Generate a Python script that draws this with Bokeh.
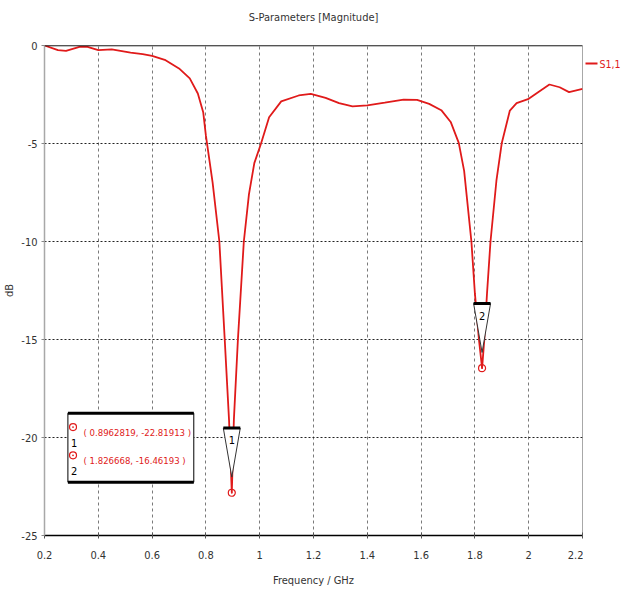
import subprocess
from bokeh.plotting import figure
from bokeh.layouts import row
from bokeh.models import Range1d, FixedTicker, Span, Title
from bokeh.core.properties import value
from bokeh.embed import file_html
from bokeh.resources import INLINE

# ---------------- data ----------------
freq_ghz = [0.20, 0.25, 0.28, 0.33, 0.36, 0.40, 0.45, 0.52, 0.565, 0.60,
            0.65, 0.70, 0.74, 0.77, 0.79, 0.80, 0.825, 0.85, 0.87, 0.886,
            0.8963, 0.904, 0.919, 0.941, 0.96, 0.98, 1.005, 1.035, 1.08, 1.145,
            1.19, 1.245, 1.295, 1.345, 1.40, 1.465, 1.535, 1.585, 1.63, 1.675,
            1.71, 1.74, 1.76, 1.787, 1.80, 1.815, 1.8267, 1.835, 1.845, 1.858,
            1.88, 1.90, 1.93, 1.955, 2.00, 2.035, 2.077, 2.115, 2.15, 2.20]
s11_db = [0.0, -0.24, -0.27, -0.07, -0.07, -0.24, -0.20, -0.36, -0.44, -0.53,
          -0.75, -1.17, -1.68, -2.45, -3.4, -4.6, -7.0, -10.0, -15.0, -19.1,
          -22.82, -19.1, -15.0, -10.0, -7.6, -6.0, -5.0, -3.66, -2.85, -2.55,
          -2.47, -2.67, -2.94, -3.11, -3.06, -2.92, -2.76, -2.77, -2.98, -3.30,
          -3.90, -4.97, -6.40, -10.0, -12.65, -15.0, -16.46, -15.0, -12.65, -10.0,
          -6.9, -4.97, -3.32, -2.94, -2.72, -2.38, -1.99, -2.13, -2.38, -2.21]

marker_ids = ["1", "2"]
marker_freq = [0.8962819, 1.826668]
marker_db = [-22.81913, -16.46193]
marker_freq_text = ["0.8962819", "1.826668"]
marker_db_text = ["-22.81913", "-16.46193"]

x_ticks = [0.2, 0.4, 0.6, 0.8, 1.0, 1.2, 1.4, 1.6, 1.8, 2.0, 2.2]
x_tick_labels = ["0.2", "0.4", "0.6", "0.8", "1", "1.2", "1.4", "1.6", "1.8", "2", "2.2"]
y_ticks = [0, -5, -10, -15, -20, -25]
y_tick_labels = ["0", "-5", "-10", "-15", "-20", "-25"]

title_text = "S-Parameters [Magnitude]"
x_label_text = "Frequency / GHz"
y_label_text = "dB"
series_name = "S1,1"


# ---------------- style / layout ----------------
def pick_font(candidates, fallback):
    try:
        out = subprocess.run(["fc-list", ":", "family"], capture_output=True,
                             text=True, timeout=10).stdout
    except Exception:
        return fallback
    fams = set()
    for line in out.splitlines():
        for f in line.split(","):
            fams.add(f.strip())
    for c in candidates:
        if c in fams:
            return c
    return fallback


FONT = pick_font(["Liberation Sans Narrow", "DejaVu Sans Condensed"], "Roboto")
RED = "#e01a1a"
TXT = "#333333"
TOTAL_H = 589
BORDER_TOP, BORDER_BOTTOM = 45, 54
FRAME_H = TOTAL_H - BORDER_TOP - BORDER_BOTTOM
LEG_W = 39

p = figure(width=583, height=TOTAL_H, output_backend="svg", toolbar_location=None,
           x_range=Range1d(x_ticks[0], x_ticks[-1]),
           y_range=Range1d(y_ticks[-1], y_ticks[0]),
           min_border_left=41, min_border_right=1,
           min_border_top=BORDER_TOP, min_border_bottom=BORDER_BOTTOM)
p.background_fill_color = "white"
p.border_fill_color = "white"
p.outline_line_color = "#a8a8a8"
p.outline_line_width = 1

# spacer between frame and title (lifts the title up)
p.add_layout(Title(text=" ", text_font_size="10px", standoff=0), "above")

# title
p.title.text = title_text
p.title.align = "center"
p.title.vertical_align = "bottom"
p.title.standoff = 17
p.title.text_font = FONT
p.title.text_font_size = "11px"
p.title.text_font_style = "normal"
p.title.text_color = TXT

# axes
p.xaxis.ticker = FixedTicker(ticks=x_ticks)
p.xaxis.major_label_overrides = dict(zip(x_ticks, x_tick_labels))
p.yaxis.ticker = FixedTicker(ticks=y_ticks)
p.yaxis.major_label_overrides = dict(zip(y_ticks, y_tick_labels))
p.xaxis.axis_label = x_label_text
p.yaxis.axis_label = y_label_text
for ax in (p.xaxis, p.yaxis):
    ax.major_label_text_font = FONT
    ax.major_label_text_font_size = "11px"
    ax.major_label_text_color = TXT
    ax.axis_label_text_font = FONT
    ax.axis_label_text_font_size = "11px"
    ax.axis_label_text_font_style = "normal"
    ax.axis_label_text_color = TXT
    ax.minor_tick_line_color = None
    ax.axis_line_width = 1.5
p.xaxis.axis_line_color = "black"
p.xaxis.major_tick_line_color = "#555555"
p.xaxis.major_tick_in = 3
p.xaxis.major_tick_out = 3
p.xaxis.major_label_standoff = 12
p.xaxis.axis_label_standoff = 12
p.yaxis.axis_line_color = "#a8a8a8"
p.yaxis.major_tick_line_color = "#888888"
p.yaxis.major_tick_in = 0
p.yaxis.major_tick_out = 3
p.yaxis.major_label_standoff = 4
p.yaxis.axis_label_standoff = 2

# grid
p.xgrid.grid_line_color = "#7a7a7a"
p.xgrid.grid_line_dash = "3 3"
p.xgrid.grid_line_width = 1
p.ygrid.grid_line_color = "#222222"
p.ygrid.grid_line_dash = "2 2"
p.ygrid.grid_line_width = 1

p.add_layout(Span(location=y_ticks[0], dimension="width",
                  line_color="black", line_width=1.5))

# curve
curve = p.line(freq_ghz, s11_db, line_color=RED, line_width=1.8)

# marker flags (inverted triangles above each marker point)
TRI_HALF = 0.0315   # GHz
TIP_OFF = 0.8       # dB
TRI_H = 2.5         # dB
tri_xs = [[mx - TRI_HALF, mx + TRI_HALF, mx] for mx in marker_freq]
tri_ys = [[my + TIP_OFF + TRI_H, my + TIP_OFF + TRI_H, my + TIP_OFF] for my in marker_db]
p.patches(tri_xs, tri_ys, fill_color="white", line_color="#333333", line_width=1)
tops = [my + TIP_OFF + TRI_H for my in marker_db]
p.segment(x0=[mx - TRI_HALF for mx in marker_freq], y0=tops,
          x1=[mx + TRI_HALF for mx in marker_freq], y1=tops,
          line_color="black", line_width=3)
p.text(x=marker_freq, y=[t - 0.62 for t in tops], text=marker_ids,
       text_font=value(FONT), text_font_size="11px", text_color="black",
       text_align="center", text_baseline="middle")
p.scatter(marker_freq, marker_db, marker="circle_dot", size=7,
          line_color=RED, fill_color=None, line_width=1.2)

# marker readout box
BOX_L, BOX_R, BOX_T, BOX_B = 0.287, 0.755, -18.76, -22.28
ROW_Y0, ROW_STEP = -19.73, 1.44
ICON_X, TEXT_X = 0.306, 0.345
row_y = [ROW_Y0 - i * ROW_STEP for i in range(len(marker_ids))]
p.quad(left=BOX_L, right=BOX_R, top=BOX_T, bottom=BOX_B,
       fill_color="white", line_color="black", line_width=1)
p.segment(x0=[BOX_L, BOX_L], y0=[BOX_T, BOX_B], x1=[BOX_R, BOX_R], y1=[BOX_T, BOX_B],
          line_color="black", line_width=3)
p.scatter([ICON_X] * len(row_y), [y + 0.26 for y in row_y], marker="circle_dot", size=7,
          line_color=RED, fill_color=None, line_width=1.2)
p.text(x=[ICON_X + 0.004] * len(row_y), y=[y - 0.55 for y in row_y], text=marker_ids,
       text_font=value(FONT), text_font_size="11px", text_color="black",
       text_align="center", text_baseline="middle")
p.text(x=[TEXT_X] * len(row_y), y=row_y,
       text=[f"( {fx}, {dy} )" for fx, dy in zip(marker_freq_text, marker_db_text)],
       text_font=value(FONT), text_font_size="9.5px", text_color=RED,
       text_align="left", text_baseline="middle")

# legend panel to the right of the plot (pixels from the frame top, y downwards)
leg = figure(width=LEG_W, height=TOTAL_H, output_backend="svg", toolbar_location=None,
             x_range=Range1d(0, LEG_W), y_range=Range1d(FRAME_H, 0),
             x_axis_type=None, y_axis_type=None,
             min_border_left=0, min_border_right=0,
             min_border_top=BORDER_TOP, min_border_bottom=BORDER_BOTTOM)
leg.grid.visible = False
leg.outline_line_color = None
leg.background_fill_color = "white"
leg.border_fill_color = "white"
LEG_Y, LEG_X0, LEG_X1 = 18, 2, 14
leg.segment(x0=[LEG_X0], y0=[LEG_Y], x1=[LEG_X1], y1=[LEG_Y],
            line_color=RED, line_width=2)
leg.text(x=[LEG_X1 + 2], y=[LEG_Y], text=[series_name], text_font=value(FONT),
         text_font_size="10.5px", text_color=RED, text_align="left",
         text_baseline="middle")

layout = row(p, leg, spacing=0)
open("out.html", "w").write(file_html(layout, INLINE))
